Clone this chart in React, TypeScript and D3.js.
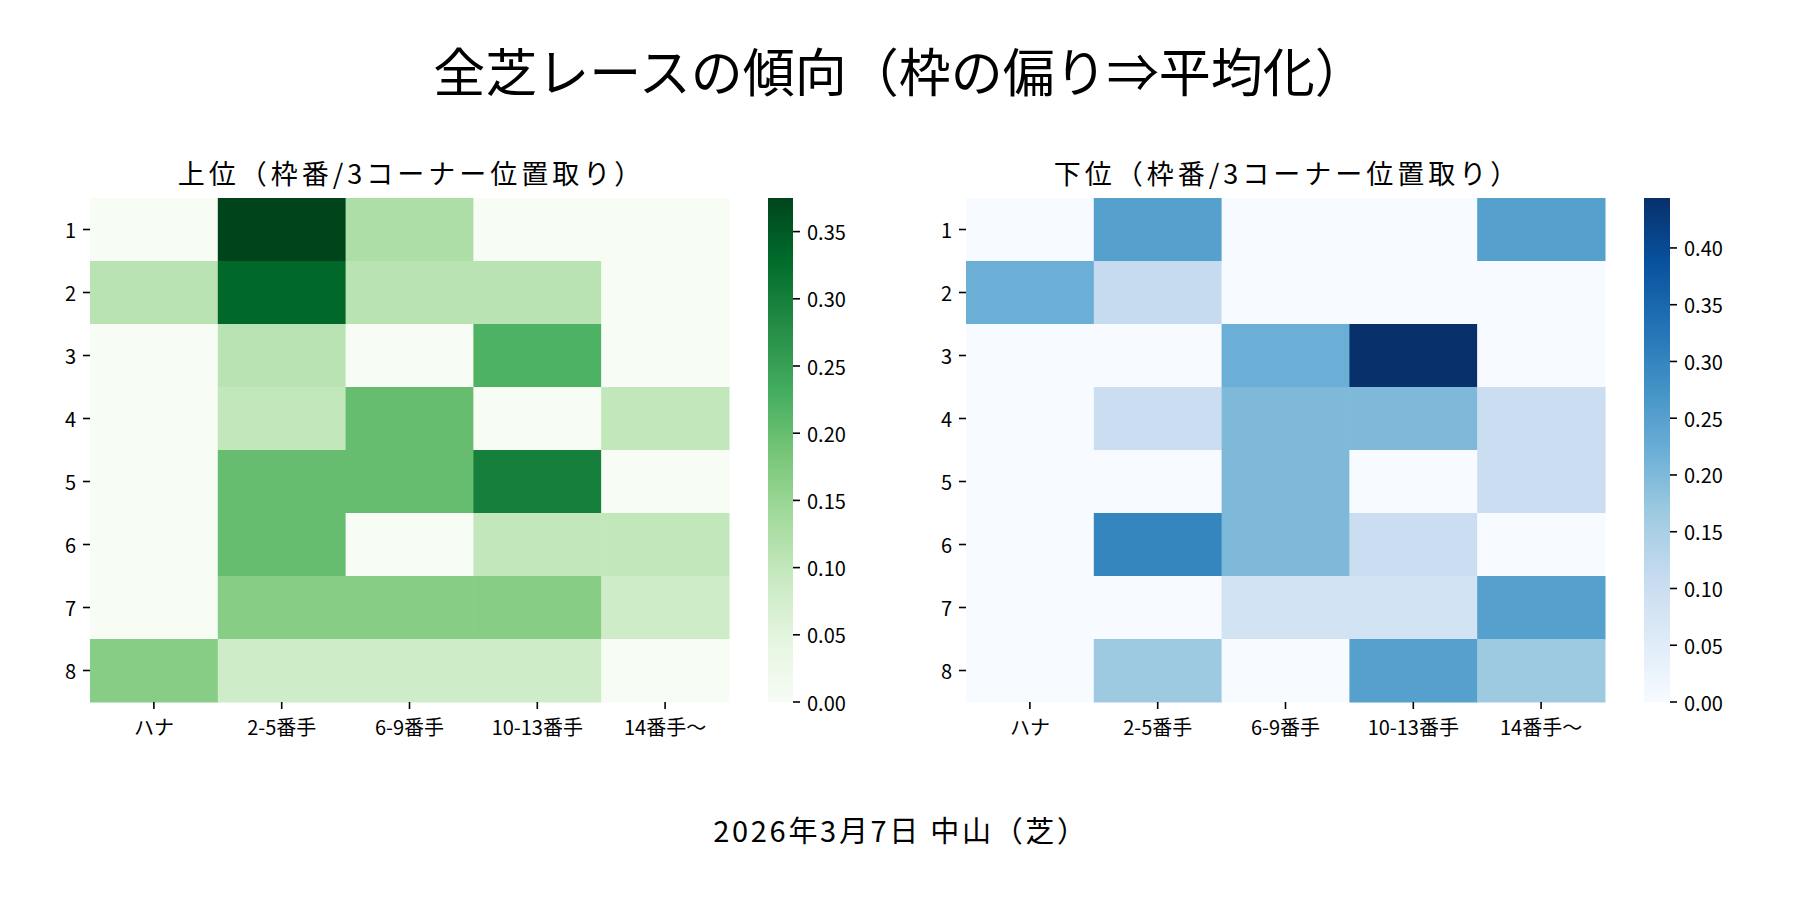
import React, { useEffect } from "react";
import * as d3 from "d3";

const width = 1800;
const height = 900;
const font = "'Noto Sans CJK JP', 'Noto Sans', sans-serif";

const columns = ["ハナ", "2-5番手", "6-9番手", "10-13番手", "14番手〜"];
const frames = ["1", "2", "3", "4", "5", "6", "7", "8"];

// 上位 (rows = frame 1..8, cols = position at 3rd corner)
const topValues = [
  [0, 0.375, 0.125, 0, 0],
  [0.111, 0.333, 0.111, 0.111, 0],
  [0, 0.111, 0, 0.222, 0],
  [0, 0.1, 0.2, 0, 0.1],
  [0, 0.2, 0.2, 0.3, 0],
  [0, 0.2, 0, 0.1, 0.1],
  [0, 0.167, 0.167, 0.167, 0.083],
  [0.167, 0.083, 0.083, 0.083, 0],
];

// 下位
const bottomValues = [
  [0, 0.25, 0, 0, 0.25],
  [0.222, 0.111, 0, 0, 0],
  [0, 0, 0.222, 0.444, 0],
  [0, 0.1, 0.2, 0.2, 0.1],
  [0, 0, 0.2, 0, 0.1],
  [0, 0.3, 0.2, 0.1, 0],
  [0, 0, 0.083, 0.083, 0.25],
  [0, 0.167, 0, 0.25, 0.167],
];

const topTicks = [0, 0.05, 0.1, 0.15, 0.2, 0.25, 0.3, 0.35];
const bottomTicks = [0, 0.05, 0.1, 0.15, 0.2, 0.25, 0.3, 0.35, 0.4];

const mainTitle = "全芝レースの傾向（枠の偏り⇒平均化）";
const footer = "2026年3月7日 中山（芝）";

type HeatProps = {
  id: string;
  title: string;
  values: number[][];
  ticks: number[];
  scheme: readonly string[];
  x0: number;
  x1: number;
  cb0: number;
  cb1: number;
};

const top = 198;
const bottom = 702;
const tickLen = 7;
const tickFont = 20;

function Heatmap({ id, title, values, ticks, scheme, x0, x1, cb0, cb1 }: HeatProps) {
  const vmax = d3.max(values.flat())!;
  const x = d3.scaleBand().domain(columns).range([x0, x1]);
  const y = d3.scaleBand().domain(frames).range([top, bottom]);
  const color = d3
    .scaleLinear<string>()
    .domain(scheme.map((_, i) => (i / (scheme.length - 1)) * vmax))
    .range(scheme as string[])
    .clamp(true);
  const cb = d3.scaleLinear().domain([0, vmax]).range([bottom, top]);

  return (
    <g>
      <defs>
        <linearGradient id={id} x1="0" y1="1" x2="0" y2="0">
          {scheme.map((c, i) => (
            <stop key={i} offset={i / (scheme.length - 1)} stopColor={c} />
          ))}
        </linearGradient>
      </defs>
      <text x={(x0 + x1) / 2 + 2} y={184} textAnchor="middle" fontSize={27} letterSpacing={4}>
        {title}
      </text>
      {values.map((row, ri) =>
        row.map((v, ci) => (
          <rect
            key={`${ri}-${ci}`}
            x={x(columns[ci])!}
            y={y(frames[ri])!}
            width={x.bandwidth() + 0.5}
            height={y.bandwidth() + 0.5}
            fill={color(v)}
          />
        ))
      )}
      {/* y axis */}
      {frames.map((f) => {
        const cy = y(f)! + y.bandwidth() / 2;
        return (
          <g key={f}>
            <line x1={x0 - tickLen} x2={x0} y1={cy} y2={cy} stroke="#000" strokeWidth={1.6} />
            <text x={x0 - tickLen - 7} y={cy} textAnchor="end" dominantBaseline="central" fontSize={tickFont}>
              {f}
            </text>
          </g>
        );
      })}
      {/* x axis */}
      {columns.map((c) => {
        const cx = x(c)! + x.bandwidth() / 2;
        return (
          <g key={c}>
            <line x1={cx} x2={cx} y1={bottom} y2={bottom + tickLen} stroke="#000" strokeWidth={1.6} />
            <text x={cx} y={726} textAnchor="middle" dominantBaseline="central" fontSize={tickFont}>
              {c}
            </text>
          </g>
        );
      })}
      {/* colorbar */}
      <rect x={cb0} y={top} width={cb1 - cb0} height={bottom - top} fill={`url(#${id})`} />
      {ticks.map((t) => (
        <g key={t}>
          <line x1={cb1} x2={cb1 + tickLen} y1={cb(t)} y2={cb(t)} stroke="#000" strokeWidth={1.6} />
          <text x={cb1 + 14} y={cb(t)} dominantBaseline="central" fontSize={tickFont}>
            {d3.format(".2f")(t)}
          </text>
        </g>
      ))}
    </g>
  );
}

export default function App() {
  useEffect(() => {
    document.body.style.margin = "0";
  }, []);

  return (
    <svg width={width} height={height} style={{ display: "block", background: "#fff" }} fontFamily={font}>
      <rect width={width} height={height} fill="#fff" />
      <text x={width / 2} y={92} textAnchor="middle" fontSize={52}>
        {mainTitle}
      </text>
      <Heatmap
        id="greens"
        title="上位（枠番/3コーナー位置取り）"
        values={topValues}
        ticks={topTicks}
        scheme={d3.schemeGreens[9]}
        x0={90}
        x1={729}
        cb0={768}
        cb1={793}
      />
      <Heatmap
        id="blues"
        title="下位（枠番/3コーナー位置取り）"
        values={bottomValues}
        ticks={bottomTicks}
        scheme={d3.schemeBlues[9]}
        x0={966}
        x1={1605}
        cb0={1644}
        cb1={1670}
      />
      <text x={width / 2 + 1} y={842} textAnchor="middle" fontSize={29} letterSpacing={2.7}>
        {footer}
      </text>
    </svg>
  );
}
